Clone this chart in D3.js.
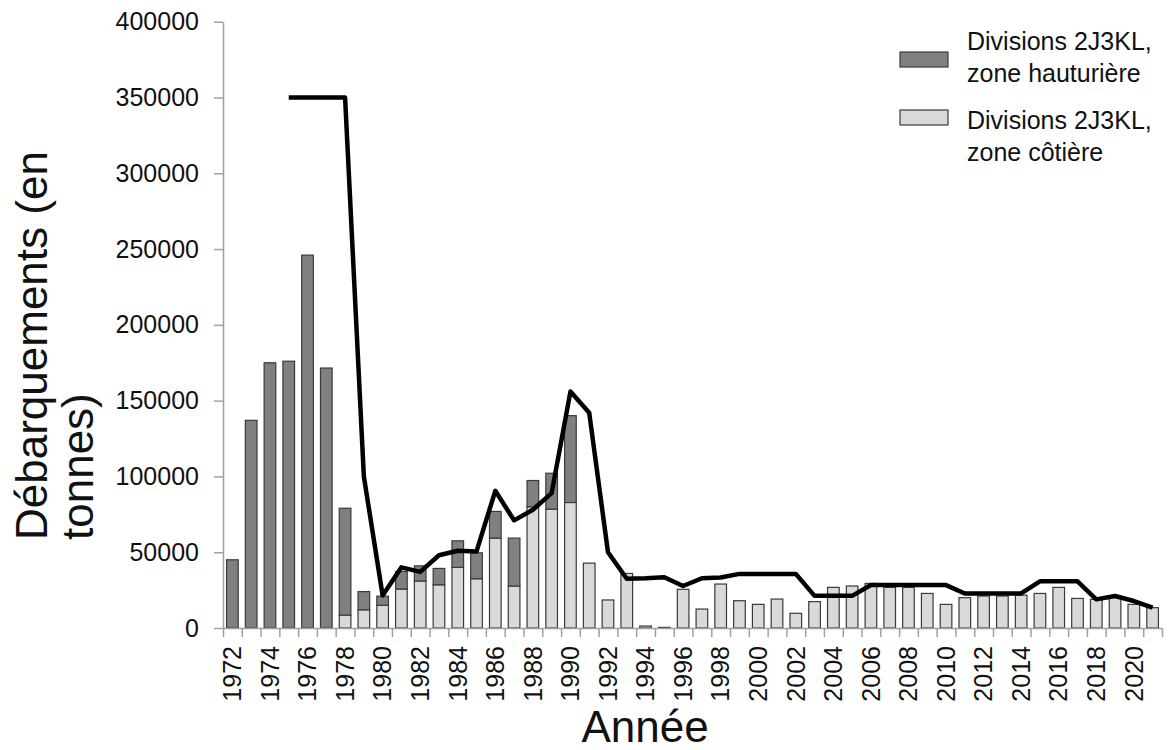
<!DOCTYPE html>
<html>
<head>
<meta charset="utf-8">
<script src="https://cdnjs.cloudflare.com/ajax/libs/d3/7.8.5/d3.min.js"></script>
<style>
  body { margin: 0; background: white; }
  svg text { font-family: "Liberation Sans", Arial, sans-serif; fill: #111; }
</style>
</head>
<body>
<svg id="mainSvg" width="1173" height="750"></svg>
<script>
// values (tonnes)
var years = d3.range(1972, 2022);
var yTicks = [0, 50000, 100000, 150000, 200000, 250000, 300000, 350000, 400000];

var coastal = [0, 0, 0, 0, 0, 0, 8500, 12000, 15000, 25700,
  31000, 28500, 40000, 32500, 59300, 27700, 80000, 78400, 82800, 42800,
  18500, 36000, 1300, 400, 25500, 12500, 29000, 18000, 15600, 19100,
  9700, 17400, 26800, 27700, 29400, 26800, 26800, 22800, 15600, 20000,
  21100, 21100, 21700, 22800, 26800, 19500, 18900, 20200, 15600, 13400];

var offshore = [45000, 137000, 175000, 176000, 246000, 171500, 70500, 12000, 6000, 11600,
  10000, 10800, 17500, 17100, 17600, 31600, 17300, 23700, 57300, 0,
  0, 0, 0, 0, 0, 0, 0, 0, 0, 0,
  0, 0, 0, 0, 0, 0, 0, 0, 0, 0,
  0, 0, 0, 0, 0, 0, 0, 0, 0, 0];

var tac = [null, null, null, 350000, 350000, 350000, 350000, 100000, 21500, 40000,
  37000, 48000, 51000, 50500, 90500, 71000, 78000, 89000, 156000, 142000,
  50000, 32500, 32800, 33500, 27700, 32800, 33300, 35700, 35700, 35700,
  35700, 21200, 21200, 21200, 28400, 28300, 28300, 28300, 28300, 22800,
  22800, 22800, 22800, 30800, 30800, 30800, 18900, 21100, 17800, 13400];

var legendItems = [
  {lines: ["Divisions 2J3KL,", "zone hauturière"], fill: "#808080"},
  {lines: ["Divisions 2J3KL,", "zone côtière"], fill: "#d9d9d9"}
];

var plotLeft = 223, plotRight = 1162, plotTop = 21.7, plotBottom = 628;
var axisColor = "#a0a0a0";
var svg = d3.select("#mainSvg");

var x = d3.scaleBand().domain(years).range([plotLeft, plotRight]).paddingInner(0.38).paddingOuter(0.19);
var xEdge = d3.scaleLinear().domain([1972, 2022]).range([plotLeft, plotRight]);
var y = d3.scaleLinear().domain([0, 400000]).range([plotBottom, plotTop]);

function drawBars(){
  var rows = years.map(function(yr, i){
    return {year: yr, coastal: coastal[i], offshore: offshore[i]};
  });
  var g = svg.append("g");
  // coastal part sits at the bottom
  g.selectAll(".coastal")
    .data(rows.filter(function(d){ return d.coastal > 0; }))
    .enter().append("rect")
      .attr("x", function(d){ return x(d.year); })
      .attr("y", function(d){ return y(d.coastal); })
      .attr("width", x.bandwidth())
      .attr("height", function(d){ return plotBottom - y(d.coastal); })
      .style("fill", "#d9d9d9")
      .style("stroke", "#3a3a3a")
      .style("stroke-width", 1.2);
  g.selectAll(".offshore")
    .data(rows.filter(function(d){ return d.offshore > 0; }))
    .enter().append("rect")
      .attr("x", function(d){ return x(d.year); })
      .attr("y", function(d){ return y(d.coastal + d.offshore); })
      .attr("width", x.bandwidth())
      .attr("height", function(d){ return y(d.coastal) - y(d.coastal + d.offshore); })
      .style("fill", "#808080")
      .style("stroke", "#3a3a3a")
      .style("stroke-width", 1.2);
}

function drawAxes(){
  var yAxis = d3.axisLeft(y).tickValues(yTicks).tickFormat(d3.format("d"))
    .tickSize(9).tickSizeOuter(0).tickPadding(15);
  var ga = svg.append("g").attr("transform", "translate(" + plotLeft + ",0)").call(yAxis);
  ga.selectAll("path, line").style("stroke", axisColor).style("stroke-width", 1.5);
  ga.selectAll("text").style("font-size", "25px").style("fill", "#111")
    .style("font-family", "'Liberation Sans', Arial, sans-serif");

  var xAxis = d3.axisBottom(xEdge).tickValues(d3.range(1972, 2023)).tickFormat("")
    .tickSize(9).tickSizeOuter(0);
  var gx = svg.append("g").attr("transform", "translate(0," + plotBottom + ")").call(xAxis);
  gx.selectAll("path, line").style("stroke", axisColor).style("stroke-width", 1.5);

  svg.selectAll(".yearLabel")
    .data(years.filter(function(d){ return d % 2 == 0; }))
    .enter().append("text")
      .attr("class", "yearLabel")
      .attr("transform", function(d){
        return "translate(" + (x(d) + x.bandwidth() / 2) + ",646) rotate(-90)"; })
      .attr("text-anchor", "end")
      .attr("dy", "0.35em")
      .attr("font-size", 25)
      .text(function(d){ return d; });

  svg.append("text")
    .attr("x", 645).attr("y", 742)
    .attr("text-anchor", "middle")
    .attr("font-size", 44)
    .text("Année");

  var titleLines = ["Débarquements (en", "tonnes)"];
  svg.selectAll(".yTitle")
    .data(titleLines)
    .enter().append("text")
      .attr("class", "yTitle")
      .attr("transform", function(d, i){ return "translate(" + (47 + i * 46) + ",540) rotate(-90)"; })
      .attr("text-anchor", "start")
      .attr("font-size", 44)
      .text(function(d){ return d; });
}

function drawLine(){
  var line = d3.line()
    .defined(function(d){ return d != null; })
    .x(function(d, i){ return x(years[i]) + x.bandwidth() / 2; })
    .y(function(d){ return y(d); });
  svg.append("path")
    .datum(tac)
    .attr("d", line)
    .style("fill", "none")
    .style("stroke", "#000")
    .style("stroke-width", 4.5)
    .style("stroke-linejoin", "round");
}

function drawLegend(){
  var swatchY = [52, 110];
  var textY = [50, 129];
  legendItems.forEach(function(d, i){
    svg.append("rect")
      .attr("x", 900).attr("y", swatchY[i])
      .attr("width", 48).attr("height", 15)
      .style("fill", d.fill)
      .style("stroke", "#3a3a3a")
      .style("stroke-width", 1.2);
    d.lines.forEach(function(t, k){
      svg.append("text")
        .attr("x", 967).attr("y", textY[i] + k * 32)
        .attr("font-size", 25)
        .text(t);
    });
  });
}

drawBars();
drawLine();
drawAxes();
drawLegend();
</script>
</body>
</html>
